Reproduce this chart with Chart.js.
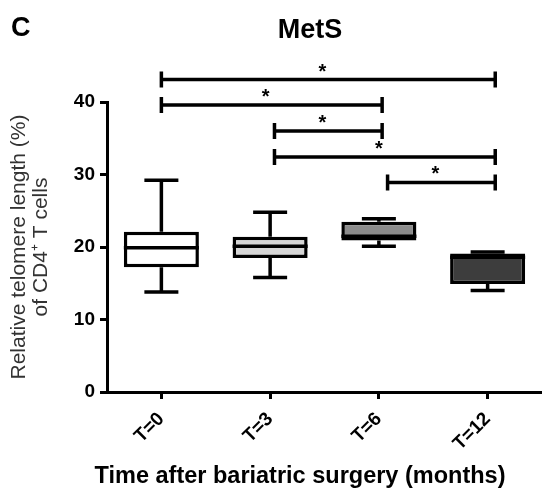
<!DOCTYPE html>
<html lang="en">
<head>
    <meta charset="UTF-8">
    <title>MetS telomere length</title>
    <script src="https://cdn.jsdelivr.net/npm/chart.js"></script>
    <style>
        html, body { margin: 0; padding: 0; background: white; }
        #wrap { width: 542px; height: 488px; }
    </style>
</head>
<body>
    <div id="wrap"><canvas id="myChart" width="542" height="488"></canvas></div>

    <script>
        // box plot values
        const categories = ['T=0', 'T=3', 'T=6', 'T=12'];
        const whiskerMin = [13.8, 15.8, 20.1, 14.0];
        const q1 = [17.2, 18.5, 20.9, 14.9];
        const median = [19.9, 20.1, 21.5, 18.6];
        const q3 = [22.1, 21.4, 23.5, 19.1];
        const whiskerMax = [29.2, 24.8, 23.9, 19.3];
        const boxColors = ['#ffffff', '#d6d6d6', '#8c8c8c', '#3d3d3d'];

        // significance brackets (category index from / to, height in %)
        const sigFrom = [0, 0, 1.04, 1.04, 2.08];
        const sigTo = [3.07, 2.03, 2.03, 3.07, 3.07];
        const sigLevel = [43.1, 39.6, 36.0, 32.4, 28.9];
        const sigLabel = ['*', '*', '*', '*', '*'];

        const yTicks = [0, 10, 20, 30, 40];

        const font = "'Liberation Sans', Arial, sans-serif";

        const boxPlugin = {
            id: 'boxExtras',
            afterDatasetsDraw(chart) {
                const ctx = chart.ctx;
                const x = chart.scales.x;
                const y = chart.scales.y;
                const meta = chart.getDatasetMeta(0);
                ctx.save();
                ctx.strokeStyle = 'black';
                ctx.lineWidth = 3.5;
                ctx.lineCap = 'butt';
                for (let i = 0; i < categories.length; i++) {
                    const cx = x.getPixelForValue(i);
                    const bw = meta.data[i].width;
                    const capHalf = 17;
                    ctx.beginPath();
                    // upper whisker
                    ctx.moveTo(cx, y.getPixelForValue(q3[i]));
                    ctx.lineTo(cx, y.getPixelForValue(whiskerMax[i]));
                    ctx.moveTo(cx - capHalf, y.getPixelForValue(whiskerMax[i]));
                    ctx.lineTo(cx + capHalf, y.getPixelForValue(whiskerMax[i]));
                    // lower whisker
                    ctx.moveTo(cx, y.getPixelForValue(q1[i]));
                    ctx.lineTo(cx, y.getPixelForValue(whiskerMin[i]));
                    ctx.moveTo(cx - capHalf, y.getPixelForValue(whiskerMin[i]));
                    ctx.lineTo(cx + capHalf, y.getPixelForValue(whiskerMin[i]));
                    // median
                    ctx.moveTo(cx - bw / 2, y.getPixelForValue(median[i]));
                    ctx.lineTo(cx + bw / 2, y.getPixelForValue(median[i]));
                    ctx.stroke();
                }

                // significance brackets
                ctx.fillStyle = 'black';
                ctx.textAlign = 'center';
                ctx.textBaseline = 'alphabetic';
                ctx.font = 'bold 20px ' + font;
                for (let k = 0; k < sigLevel.length; k++) {
                    const x0 = x.getPixelForValue(sigFrom[k]);
                    const x1 = x.getPixelForValue(sigTo[k]);
                    const yy = y.getPixelForValue(sigLevel[k]);
                    ctx.beginPath();
                    ctx.moveTo(x0, yy);
                    ctx.lineTo(x1, yy);
                    ctx.moveTo(x0, yy - 8);
                    ctx.lineTo(x0, yy + 8);
                    ctx.moveTo(x1, yy - 8);
                    ctx.lineTo(x1, yy + 8);
                    ctx.stroke();
                    ctx.fillText(sigLabel[k], (x0 + x1) / 2 - 6, yy - 2);
                }

                // panel letter, title and x axis title
                ctx.textAlign = 'left';
                ctx.font = 'bold 27px ' + font;
                ctx.fillText('C', 11, 36);
                ctx.textAlign = 'center';
                ctx.font = 'bold 27px ' + font;
                ctx.fillText('MetS', 310, 38);
                ctx.font = 'bold 23.5px ' + font;
                ctx.fillText('Time after bariatric surgery (months)', 300, 483);
                ctx.restore();
            }
        };

        const data = {
            labels: categories,
            datasets: [{
                data: q1.map((v, i) => [v, q3[i]]),
                backgroundColor: boxColors,
                borderColor: 'black',
                borderWidth: 3.5,
                borderSkipped: false,
                barPercentage: 0.69,
                categoryPercentage: 1.0
            }]
        };

        new Chart(document.getElementById('myChart'), {
            type: 'bar',
            data: data,
            plugins: [boxPlugin],
            options: {
                responsive: false,
                animation: false,
                layout: { padding: { top: 102, right: 0, left: 0, bottom: 0 } },
                plugins: {
                    legend: { display: false },
                    tooltip: { enabled: false }
                },
                scales: {
                    x: {
                        afterFit: (scale) => { scale.height = 96; },
                        border: { color: 'black', width: 3 },
                        grid: {
                            offset: false,
                            drawOnChartArea: false,
                            drawTicks: true,
                            tickLength: 7,
                            color: 'black',
                            lineWidth: 3
                        },
                        ticks: {
                            color: 'black',
                            minRotation: 45,
                            maxRotation: 45,
                            font: { family: font, size: 19, weight: 'bold' },
                            padding: 9
                        }
                    },
                    y: {
                        min: 0,
                        max: 40,
                        afterFit: (scale) => { scale.width = 107; },
                        afterBuildTicks: (scale) => { scale.ticks = yTicks.map(v => ({ value: v })); },
                        border: { color: 'black', width: 3 },
                        grid: {
                            drawOnChartArea: false,
                            drawTicks: true,
                            tickLength: 7,
                            color: 'black',
                            lineWidth: 3
                        },
                        ticks: {
                            color: 'black',
                            font: { family: font, size: 19, weight: 'bold' },
                            padding: 5
                        },
                        title: {
                            display: true,
                            text: ['Relative telomere length (%)', 'of CD4\u207A T cells'],
                            color: '#333',
                            font: { family: font, size: 21, lineHeight: 1.05 },
                            padding: { top: 8, bottom: 0 }
                        }
                    }
                }
            }
        });
    </script>
</body>
</html>
